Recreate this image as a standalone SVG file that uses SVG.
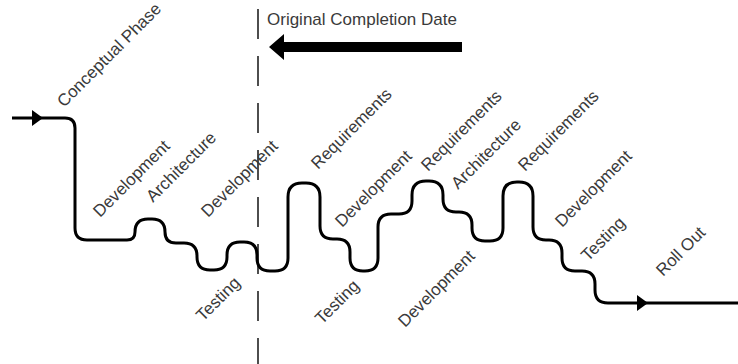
<svg xmlns="http://www.w3.org/2000/svg" width="738" height="364" viewBox="0 0 738 364">
<style>
.lbl{font-family:"Liberation Sans",Arial,sans-serif;font-size:17px;fill:#3a3a3a}
.flow{fill:none;stroke:#000;stroke-width:3;stroke-linejoin:round}
.head{fill:#000}
.dash{stroke:#222;stroke-width:1.6;stroke-dasharray:30 17}
</style>
<rect width="738" height="364" fill="#fff"/>
<g id="deadline">
<line class="dash" x1="258" y1="9" x2="258" y2="364"/>
<text class="lbl" x="267" y="25">Original Completion Date</text>
<polygon class="head" points="269,47 284,34 284,42 462,42 462,52 284,52 284,60"/>
</g>
<g id="connectors">
<path class="flow" d="M12 118 H65 Q75 118 75 128 V228 Q75 240 87 240 H127 Q135 240 135 232 Q135 219 148 219 H152 Q165 219 165 232 Q165 243 176 243 H184 Q197 243 197 256 V257 Q197 270 210 270 H214 Q227 270 227 257 V255 Q227 242 240 242 H244 Q257 242 257 255 V258 Q257 271 270 271 H275 Q288 271 288 258 V197 Q288 183 302 183 H306 Q320 183 320 197 V226 Q320 239 333 239 H337 Q350 239 350 252 V258 Q350 271 363 271 H365 Q378 271 378 258 V227 Q378 214 391 214 H399 Q412 214 412 201 V195 Q412 181 426 181 H429 Q443 181 443 195 V199 Q443 212 456 212 H459 Q472 212 472 225 V228 Q472 241 485 241 H490 Q503 241 503 228 V196 Q503 182 517 182 H519 Q533 182 533 196 V227 Q533 240 546 240 H549 Q562 240 562 253 V258 Q562 271 575 271 H582 Q595 271 595 284 V290 Q595 303 608 303 H738"/>
<polygon class="head" points="43,118 32,110 32,126"/>
<polygon class="head" points="648,303 637,295 637,311"/>
</g>
<g id="conceptual-phase"><text class="lbl" transform="translate(64,108) rotate(-45)">Conceptual Phase</text></g>
<g id="development-1"><text class="lbl" transform="translate(100,218) rotate(-45)">Development</text></g>
<g id="architecture-1"><text class="lbl" transform="translate(153,203) rotate(-45)">Architecture</text></g>
<g id="development-2"><text class="lbl" transform="translate(208,218) rotate(-45)">Development</text></g>
<g id="testing-1"><text class="lbl" transform="translate(203,322) rotate(-45)">Testing</text></g>
<g id="requirements-1"><text class="lbl" transform="translate(318,170) rotate(-45)">Requirements</text></g>
<g id="development-3"><text class="lbl" transform="translate(342,228) rotate(-45)">Development</text></g>
<g id="testing-2"><text class="lbl" transform="translate(322,325) rotate(-45)">Testing</text></g>
<g id="requirements-2"><text class="lbl" transform="translate(428,172) rotate(-45)">Requirements</text></g>
<g id="architecture-2"><text class="lbl" transform="translate(458,190) rotate(-45)">Architecture</text></g>
<g id="development-4"><text class="lbl" transform="translate(405,328) rotate(-45)">Development</text></g>
<g id="requirements-3"><text class="lbl" transform="translate(525,172) rotate(-45)">Requirements</text></g>
<g id="development-5"><text class="lbl" transform="translate(562,228) rotate(-45)">Development</text></g>
<g id="testing-3"><text class="lbl" transform="translate(588,262) rotate(-45)">Testing</text></g>
<g id="roll-out"><text class="lbl" transform="translate(663,277) rotate(-45)">Roll Out</text></g>
</svg>
